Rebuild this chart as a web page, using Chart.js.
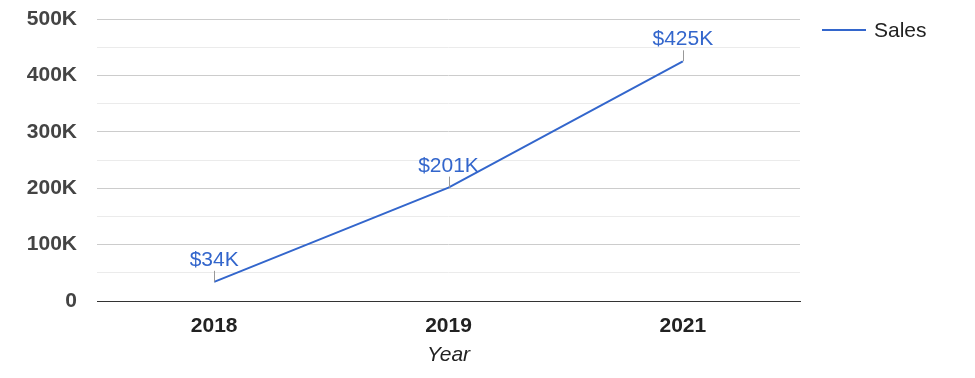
<!DOCTYPE html>
<html>
<head>
<meta charset="utf-8">
<script src="https://cdn.jsdelivr.net/npm/chart.js@4"></script>
<style>
  html, body { margin: 0; padding: 0; background: #fff; }
  #wrap { width: 975px; height: 378px; }
</style>
</head>
<body>
<div id="wrap"><canvas id="sales_chart" width="975" height="378"></canvas></div>
<script>
// chart data
const years = ['2018', '2019', '2021'];
const sales = [34000, 201000, 425000];
const salesLabels = ['$34K', '$201K', '$425K'];
const seriesName = 'Sales';

const FONT = '"Liberation Sans", Arial, sans-serif';
const BLUE = '#3366cc';

// data labels with a small stem, plus the legend on the right
const labelPlugin = {
    id: 'labels',
    afterDatasetsDraw(chart) {
        const ctx = chart.ctx;
        const meta = chart.getDatasetMeta(0);
        ctx.save();
        meta.data.forEach((pt, i) => {
            ctx.strokeStyle = '#999';
            ctx.lineWidth = 1;
            ctx.beginPath();
            ctx.moveTo(Math.round(pt.x) + 0.5, pt.y);
            ctx.lineTo(Math.round(pt.x) + 0.5, pt.y - 11);
            ctx.stroke();
            ctx.fillStyle = BLUE;
            ctx.font = '21px ' + FONT;
            ctx.textAlign = 'center';
            ctx.textBaseline = 'alphabetic';
            ctx.fillText(salesLabels[i], pt.x, pt.y - 16);
        });

        // legend
        ctx.strokeStyle = BLUE;
        ctx.lineWidth = 2;
        ctx.beginPath();
        ctx.moveTo(822, 30);
        ctx.lineTo(866, 30);
        ctx.stroke();
        ctx.fillStyle = '#222';
        ctx.font = '21px ' + FONT;
        ctx.textAlign = 'left';
        ctx.fillText(seriesName, 874, 37);
        ctx.restore();
    }
};

const ctx = document.getElementById('sales_chart').getContext('2d');
const sales_chart = new Chart(ctx, {
    type: 'line',
    data: {
        labels: years,
        datasets: [{
            label: seriesName,
            data: sales,
            borderColor: BLUE,
            borderWidth: 2,
            pointRadius: 0,
            tension: 0,
            fill: false
        }]
    },
    options: {
        responsive: false,
        animation: false,
        layout: { padding: { left: 0, right: 175, top: 19, bottom: 0 } },
        plugins: {
            legend: { display: false },
            tooltip: { enabled: false }
        },
        scales: {
            x: {
                offset: true,
                grid: { display: false, drawTicks: false },
                border: { display: true, color: '#333', width: 1 },
                ticks: {
                    color: '#222',
                    padding: 13,
                    font: { family: FONT, size: 21, weight: 'bold' }
                },
                title: {
                    display: true,
                    text: 'Year',
                    color: '#222',
                    padding: { top: 6, bottom: 10 },
                    font: { family: FONT, size: 21, style: 'italic' }
                },
                afterFit: s => { s.height = 77; }
            },
            y: {
                min: 0,
                max: 500000,
                ticks: {
                    stepSize: 50000,
                    autoSkip: false,
                    color: '#444',
                    padding: 20,
                    font: { family: FONT, size: 21, weight: 'bold' },
                    callback: v => v % 100000 === 0 ? (v === 0 ? '0' : (v / 1000) + 'K') : ''
                },
                grid: {
                    drawTicks: false,
                    color: c => (c.tick && c.tick.value % 100000 === 0) ? '#cccccc' : '#ebebeb'
                },
                border: { display: false },
                afterFit: s => { s.width = 97; s.paddingTop = 0; s.paddingBottom = 0; }
            }
        }
    },
    plugins: [labelPlugin]
});
</script>
</body>
</html>
